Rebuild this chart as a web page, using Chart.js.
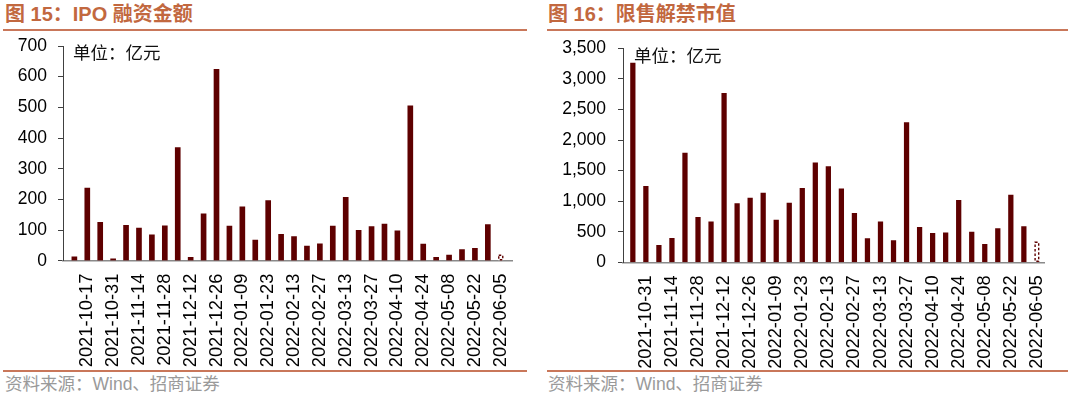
<!DOCTYPE html>
<html>
<head>
<meta charset="utf-8">
<script src="https://cdn.jsdelivr.net/npm/chart.js@4.4.0/dist/chart.umd.min.js"></script>
<style>
  html, body { margin: 0; padding: 0; background: #fff; }
  body { width: 1072px; height: 398px; position: relative; overflow: hidden; }
  .title { position: absolute; top: 3px; font-family: "Liberation Sans", "Noto Sans CJK SC", sans-serif; font-weight: bold; font-size: 20px; color: #C2683F; line-height: 23px; white-space: nowrap; }
  .rule { position: absolute; height: 2px; background: #C9775A; }
  .src { position: absolute; top: 375px; font-family: "Liberation Sans", "Noto Sans CJK SC", sans-serif; font-size: 17.5px; color: #9a9a9a; line-height: 19px; white-space: nowrap; }
  .unit { position: absolute; font-family: "Noto Sans CJK SC", sans-serif; font-size: 17.5px; color: #111; line-height: 19px; white-space: nowrap; }
  .box { position: absolute; top: 0; height: 372px; }
</style>
</head>
<body>
<div class="title" style="left:5px;">图 15：IPO 融资金额</div>
<div class="title" style="left:548px;">图 16：限售解禁市值</div>
<div class="rule" style="left:3px; width:524px; top:29px;"></div>
<div class="rule" style="left:547px; width:521px; top:29px;"></div>

<div class="box" style="left:0; width:536px;"><canvas id="c1" width="536" height="372"></canvas></div>
<div class="box" style="left:540px; width:532px;"><canvas id="c2" width="532" height="372"></canvas></div>

<div class="unit" style="left:73px; top:42px;">单位：亿元</div>
<div class="unit" style="left:634px; top:45px;">单位：亿元</div>

<div class="rule" style="left:3px; width:524px; top:370px;"></div>
<div class="rule" style="left:547px; width:521px; top:370px;"></div>
<div class="src" style="left:5px;">资料来源：Wind、招商证券</div>
<div class="src" style="left:548px;">资料来源：Wind、招商证券</div>

<script>
// ---- data ----
const ipoWeeks = ["2021-10-10","2021-10-17","2021-10-24","2021-10-31","2021-11-07","2021-11-14","2021-11-21","2021-11-28","2021-12-05","2021-12-12","2021-12-19","2021-12-26","2022-01-02","2022-01-09","2022-01-16","2022-01-23","2022-01-30","2022-02-13","2022-02-20","2022-02-27","2022-03-06","2022-03-13","2022-03-20","2022-03-27","2022-04-03","2022-04-10","2022-04-17","2022-04-24","2022-05-01","2022-05-08","2022-05-15","2022-05-22","2022-05-29","2022-06-05"];
const ipoValues = [13, 237, 125, 6, 115, 106, 84, 114, 369, 11, 153, 624, 113, 176, 67, 196, 86, 79, 48, 55, 113, 207, 99, 111, 119, 97, 505, 54, 11, 18, 36, 40, 118, 18];
const unlockWeeks = ["2021-10-24","2021-10-31","2021-11-07","2021-11-14","2021-11-21","2021-11-28","2021-12-05","2021-12-12","2021-12-19","2021-12-26","2022-01-02","2022-01-09","2022-01-16","2022-01-23","2022-01-30","2022-02-13","2022-02-20","2022-02-27","2022-03-06","2022-03-13","2022-03-20","2022-03-27","2022-04-03","2022-04-10","2022-04-17","2022-04-24","2022-05-01","2022-05-08","2022-05-15","2022-05-22","2022-05-29","2022-06-05"];
const unlockValues = [3260, 1243, 278, 393, 1788, 736, 660, 2764, 960, 1052, 1134, 692, 970, 1210, 1625, 1565, 1200, 802, 387, 660, 354, 2285, 573, 474, 480, 1014, 496, 294, 551, 1101, 583, 327];
const ipoYTicks = [0, 100, 200, 300, 400, 500, 600, 700];
const unlockYTicks = [0, 500, 1000, 1500, 2000, 2500, 3000, 3500];

const BAR = '#5E0000';
const yFont = { family: '"Liberation Sans", Arial, sans-serif', size: 17.5 };
const xFont = { family: '"Liberation Sans", Arial, sans-serif', size: 18.3 };

const dashedLast = {
  id: 'dashedLast',
  afterDatasetsDraw(chart) {
    const meta = chart.getDatasetMeta(0);
    const el = meta.data[meta.data.length - 1];
    const p = el.getProps(['x', 'y', 'base', 'width'], true);
    const ctx = chart.ctx;
    ctx.save();
    ctx.fillStyle = '#fff';
    ctx.fillRect(p.x - p.width / 2, p.y, p.width, p.base - p.y);
    ctx.setLineDash([2.5, 2]);
    ctx.strokeStyle = BAR;
    ctx.lineWidth = 1.4;
    ctx.strokeRect(p.x - p.width / 2 + 0.5, p.y, p.width - 1, p.base - p.y - 0.5);
    ctx.restore();
  }
};

function makeChart(id, labels, values, yTicks, cfg) {
  const n = labels.length;
  const yStep = yTicks[1] - yTicks[0];
  return new Chart(document.getElementById(id), {
    type: 'bar',
    data: {
      labels: labels,
      datasets: [{
        data: values,
        backgroundColor: values.map((v, i) => i === n - 1 ? 'rgba(0,0,0,0)' : BAR),
        borderWidth: 0,
        barThickness: cfg.barW
      }]
    },
    options: {
      responsive: false,
      devicePixelRatio: 1,
      animation: false,
      layout: { padding: cfg.padding },
      plugins: { legend: { display: false }, tooltip: { enabled: false } },
      scales: {
        x: {
          grid: { display: false, drawTicks: false },
          border: { display: true, color: '#8a8a8a', width: 1.5 },
          ticks: {
            autoSkip: false, minRotation: 90, maxRotation: 90, padding: cfg.xPad,
            color: '#000', font: xFont,
            callback: (v, i) => (i % 2 === 1 ? labels[i] : '')
          },
          afterBuildTicks: (axis) => { axis._startValue = cfg.start; axis._valueRange = cfg.range; },
          afterFit: (axis) => { axis.height = cfg.xH; }
        },
        y: {
          min: yTicks[0], max: yTicks[yTicks.length - 1],
          grid: { display: true, drawOnChartArea: false, drawTicks: true, tickLength: 5, color: '#404040' },
          border: { display: true, color: '#404040', width: 1 },
          ticks: {
            stepSize: yStep, padding: cfg.yPad, color: '#000', font: yFont,
            callback: (v) => Number(v).toLocaleString('en-US')
          },
          afterFit: (axis) => { axis.width = cfg.yW; }
        }
      }
    },
    plugins: [dashedLast]
  });
}

makeChart('c1', ipoWeeks, ipoValues, ipoYTicks, {
  padding: { left: 0, right: 11, top: 46, bottom: 0 },
  yW: 63, xH: 111.3, xPad: 13, yPad: 11, barW: 5,
  start: -0.88, range: 34.76
});
makeChart('c2', unlockWeeks, unlockValues, unlockYTicks, {
  padding: { left: 0, right: 8, top: 48.3, bottom: 0 },
  yW: 83, xH: 109.7, xPad: 13, yPad: 12, barW: 4.6,
  start: -0.755, range: 32.34
});
</script>
</body>
</html>
